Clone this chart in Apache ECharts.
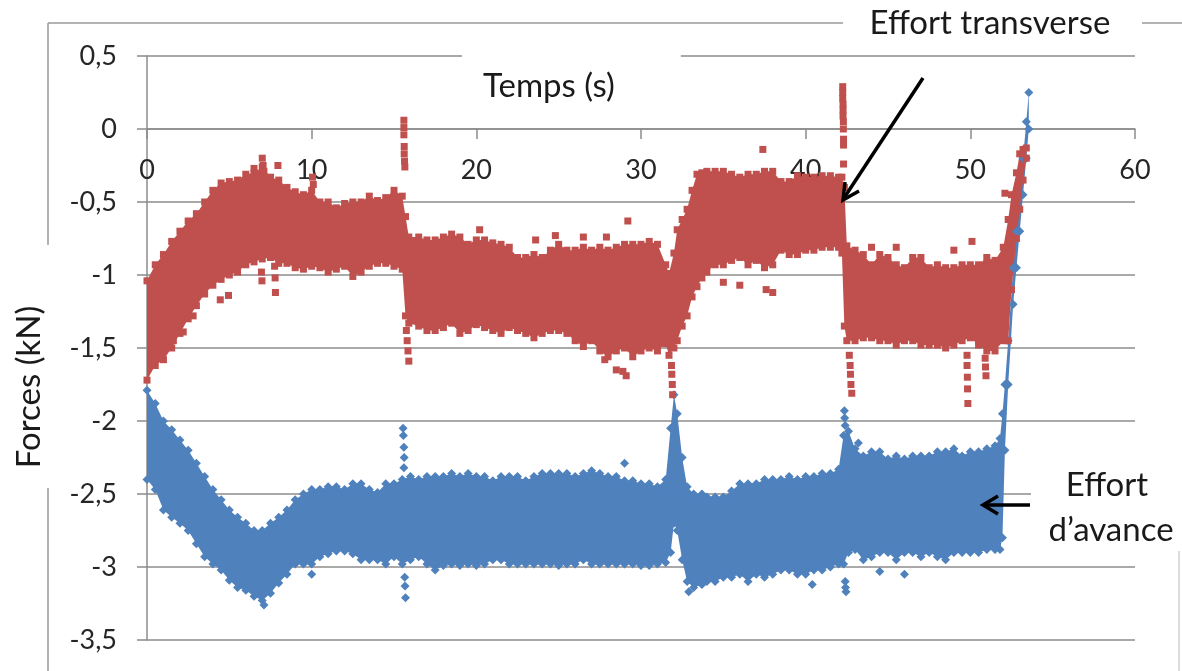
<!DOCTYPE html>
<html>
<head>
<meta charset="utf-8">
<title>Efforts de coupe</title>
<script src="https://cdn.jsdelivr.net/npm/echarts@6/dist/echarts.min.js"></script>
<style>
  html, body { margin: 0; padding: 0; background: #fff; }
  #forcesChart { width: 1182px; height: 671px; }
</style>
</head>
<body>
<div id="forcesChart"></div>
<script>
// Effort transverse : bords haut / bas du nuage de points
const tempsTransverse = [0, 0.5, 1, 1.5, 2, 2.5, 3, 3.5, 4, 4.5, 5, 5.5, 6, 6.5, 7, 7.5, 8, 8.5, 9, 9.5,
  10, 10.5, 11, 11.5, 12, 12.5, 13, 13.5, 14, 14.5, 15, 15.5, 15.7, 15.9, 16.5, 17, 17.5, 18, 18.5, 19,
  19.5, 20, 20.5, 21, 21.5, 22, 22.5, 23, 23.5, 24, 24.5, 25, 25.5, 26, 26.5, 27, 27.5, 28, 28.5, 29,
  29.5, 30, 30.5, 31, 31.5, 31.7, 32, 32.2, 32.5, 32.8, 33.1, 33.4, 33.7, 34, 34.5, 35, 35.5, 36, 36.5, 37,
  37.5, 38, 38.5, 39, 39.5, 40, 40.5, 41, 41.5, 42, 42.2, 42.35, 42.5, 43, 43.5, 44, 44.5, 45, 45.5, 46,
  46.5, 47, 47.5, 48, 48.5, 49, 49.5, 50, 50.5, 51, 51.5, 52, 52.3, 52.5, 52.8, 53, 53.2, 53.4]
const transverseHaut = [-1.04, -0.93, -0.86, -0.77, -0.70, -0.63, -0.58, -0.50, -0.42, -0.37, -0.36, -0.35, -0.31, -0.30, -0.26, -0.33, -0.35, -0.40, -0.43, -0.45,
  -0.42, -0.50, -0.50, -0.54, -0.51, -0.50, -0.50, -0.46, -0.49, -0.47, -0.42, -0.46, -0.60, -0.74, -0.74, -0.76, -0.76, -0.74, -0.72, -0.74,
  -0.79, -0.76, -0.76, -0.78, -0.79, -0.81, -0.88, -0.88, -0.86, -0.88, -0.83, -0.79, -0.83, -0.83, -0.81, -0.83, -0.81, -0.83, -0.81, -0.79,
  -0.79, -0.79, -0.77, -0.79, -0.93, -0.99, -0.85, -0.69, -0.62, -0.55, -0.42, -0.31, -0.30, -0.29, -0.29, -0.29, -0.31, -0.33, -0.31, -0.31,
  -0.29, -0.29, -0.36, -0.36, -0.32, -0.33, -0.33, -0.32, -0.32, -0.33, -0.33, -0.40, -0.80, -0.83, -0.86, -0.93, -0.86, -0.88, -0.93, -0.95,
  -0.88, -0.88, -0.95, -0.93, -0.95, -0.95, -0.93, -0.93, -0.93, -0.88, -0.90, -0.81, -0.62, -0.45, -0.30, -0.17, -0.14, -0.13]
const transverseBas = [-1.72, -1.62, -1.58, -1.50, -1.40, -1.30, -1.21, -1.13, -1.07, -1.03, -1.00, -0.98, -0.93, -0.91, -0.89, -0.88, -0.92, -0.92, -0.95, -0.96,
  -0.94, -0.95, -0.98, -0.96, -0.94, -1.01, -0.98, -0.94, -0.92, -0.92, -0.94, -0.96, -1.28, -1.33, -1.35, -1.38, -1.38, -1.36, -1.33, -1.40,
  -1.38, -1.34, -1.36, -1.38, -1.40, -1.36, -1.38, -1.40, -1.43, -1.40, -1.38, -1.38, -1.40, -1.45, -1.49, -1.45, -1.52, -1.56, -1.52, -1.50,
  -1.56, -1.52, -1.50, -1.52, -1.47, -1.55, -1.50, -1.45, -1.35, -1.28, -1.15, -1.08, -1.02, -0.98, -0.93, -0.93, -0.90, -0.88, -0.93, -0.90,
  -0.95, -0.93, -0.83, -0.86, -0.86, -0.83, -0.83, -0.81, -0.81, -0.81, -0.85, -1.35, -1.45, -1.45, -1.43, -1.43, -1.45, -1.45, -1.48, -1.45,
  -1.45, -1.48, -1.48, -1.48, -1.50, -1.48, -1.45, -1.43, -1.48, -1.52, -1.52, -1.45, -1.45, -1.10, -0.75, -0.55, -0.35, -0.20]
const transverseIsoles = [
  [15.6, 0.06], [15.6, 0.01], [15.6, -0.04], [15.62, -0.12], [15.62, -0.17], [15.64, -0.22], [15.66, -0.26],
  [15.75, -1.38], [15.8, -1.45], [15.85, -1.52], [15.9, -1.59],
  [7.0, -0.20], [7.05, -0.25], [7.1, -0.29], [7.95, -0.25], [6.5, -0.27], [10.05, -0.33], [10.1, -0.38],
  [1.6, -1.45], [2.2, -1.39], [2.8, -1.28], [4.45, -1.17], [4.95, -1.14], [6.95, -0.98], [6.98, -1.04],
  [7.75, -0.94], [7.78, -1.02], [7.8, -1.12],
  [20.2, -0.69], [23.6, -0.76], [24.8, -0.73], [26.5, -0.74], [27.9, -0.74], [29.2, -0.63],
  [27.8, -1.58], [28.5, -1.65], [29.1, -1.69], [28.9, -1.66],
  [31.85, -1.62], [31.87, -1.68], [31.9, -1.75], [31.92, -1.82],
  [42.25, 0.29], [42.25, 0.25], [42.25, 0.21], [42.27, 0.17], [42.27, 0.13], [42.27, 0.09], [42.29, 0.05],
  [42.29, 0.00], [42.3, -0.07], [42.3, -0.11], [42.3, -0.24],
  [42.65, -1.55], [42.7, -1.62], [42.72, -1.68], [42.75, -1.75], [42.8, -1.81],
  [37.4, -0.14], [35.0, -1.05], [36.0, -1.07], [37.6, -1.10], [38.0, -1.12],
  [49.8, -1.55], [49.8, -1.62], [49.82, -1.70], [49.83, -1.78], [49.85, -1.88],
  [50.9, -1.57], [50.92, -1.63], [50.95, -1.69],
  [44.0, -0.81], [45.5, -0.81], [49.0, -0.83], [50.1, -0.77], [52.1, -0.44], [52.9, -0.45]
]

// Effort d'avance
const tempsAvance = [0, 0.5, 1, 1.5, 2, 2.5, 3, 3.5, 4, 4.5, 5, 5.5, 6, 6.5, 7, 7.5, 8, 8.5, 9, 9.5,
  10, 10.5, 11, 11.5, 12, 12.5, 13, 13.5, 14, 14.5, 15, 15.5, 16, 16.5, 17, 17.5, 18, 18.5, 19, 19.5,
  20, 20.5, 21, 21.5, 22, 22.5, 23, 23.5, 24, 24.5, 25, 25.5, 26, 26.5, 27, 27.5, 28, 28.5, 29, 29.5,
  30, 30.5, 31, 31.5, 31.8, 32, 32.2, 32.5, 32.8, 33.2, 33.7, 34, 34.5, 35, 35.5, 36, 36.5, 37, 37.5, 38,
  38.5, 39, 39.5, 40, 40.5, 41, 41.5, 42, 42.3, 42.6, 43, 43.5, 44, 44.5, 45, 45.5, 46, 46.5, 47, 47.5,
  48, 48.5, 49, 49.5, 50, 50.5, 51, 51.5, 51.8, 51.95, 52.1, 52.3, 52.6, 52.8, 53, 53.2, 53.4, 53.55]
const avanceHaut = [-1.79, -1.88, -2.00, -2.06, -2.13, -2.20, -2.29, -2.38, -2.47, -2.54, -2.61, -2.66, -2.70, -2.75, -2.75, -2.70, -2.66, -2.61, -2.54, -2.50,
  -2.47, -2.47, -2.45, -2.45, -2.47, -2.43, -2.43, -2.47, -2.49, -2.43, -2.43, -2.40, -2.38, -2.40, -2.38, -2.38, -2.38, -2.36, -2.38, -2.36,
  -2.38, -2.38, -2.41, -2.38, -2.38, -2.38, -2.41, -2.38, -2.36, -2.36, -2.36, -2.36, -2.38, -2.36, -2.34, -2.36, -2.38, -2.38, -2.41, -2.41,
  -2.43, -2.43, -2.45, -2.40, -2.05, -1.82, -1.95, -2.25, -2.45, -2.50, -2.50, -2.52, -2.52, -2.52, -2.48, -2.43, -2.43, -2.43, -2.40, -2.40,
  -2.40, -2.38, -2.40, -2.38, -2.38, -2.36, -2.36, -2.33, -2.10, -2.07, -2.19, -2.24, -2.21, -2.21, -2.26, -2.24, -2.26, -2.24, -2.24, -2.24,
  -2.21, -2.21, -2.19, -2.24, -2.21, -2.21, -2.19, -2.17, -2.12, -1.95, -1.75, -1.45, -0.95, -0.70, -0.45, -0.20, 0.05, 0.25]
const avanceBas = [-2.40, -2.47, -2.61, -2.66, -2.70, -2.75, -2.84, -2.93, -2.98, -3.02, -3.09, -3.14, -3.16, -3.20, -3.23, -3.18, -3.11, -3.05, -2.98, -2.98,
  -2.98, -2.93, -2.91, -2.89, -2.89, -2.91, -2.95, -2.95, -2.95, -2.98, -2.93, -2.98, -2.95, -2.93, -2.98, -3.02, -2.99, -2.98, -2.99, -2.98,
  -2.99, -2.98, -2.95, -2.95, -2.98, -2.98, -2.98, -2.98, -2.98, -2.98, -2.99, -2.98, -2.98, -2.95, -2.98, -2.98, -2.98, -2.98, -2.98, -2.98,
  -2.99, -2.99, -2.98, -2.97, -2.90, -2.70, -2.75, -2.95, -3.10, -3.14, -3.12, -3.10, -3.10, -3.07, -3.07, -3.05, -3.10, -3.05, -3.07, -3.05,
  -3.02, -3.02, -3.05, -3.05, -3.02, -3.02, -3.00, -2.98, -2.98, -2.90, -2.88, -2.95, -2.93, -2.90, -2.90, -2.95, -2.90, -2.90, -2.93, -2.90,
  -2.93, -2.95, -2.90, -2.90, -2.90, -2.90, -2.88, -2.88, -2.88, -2.80, -2.20, -1.75, -1.20, -0.95, -0.70, -0.45, -0.20, 0.00]
const avanceIsoles = [
  [15.55, -2.05], [15.57, -2.10], [15.6, -2.18], [15.62, -2.25], [15.6, -2.32], [15.65, -3.07], [15.67, -3.13], [15.7, -3.21],
  [42.35, -1.93], [42.37, -1.98], [42.4, -2.03], [42.4, -3.10], [42.42, -3.14], [42.45, -3.17],
  [29.0, -2.29], [10.0, -3.05], [40.4, -3.12], [46.0, -3.05], [44.5, -3.03], [43.2, -2.15], [7.1, -3.26], [32.9, -3.17]
]

const rouge = '#C0504D'
const bleu = '#4F81BD'
const gris = '#8c8c8c'
const police = 'Lato, sans-serif'

// nuage dense : surface entre les deux bords, dessinee via les echelles des axes
function bande (nom, temps, haut, bas, couleur) {
  return {
    name: nom,
    type: 'custom',
    silent: true,
    data: [[temps[0], haut[0]]],
    renderItem: function (params, api) {
      const points = []
      for (let i = 0; i < temps.length; i++) points.push(api.coord([temps[i], haut[i]]))
      for (let i = temps.length - 1; i >= 0; i--) points.push(api.coord([temps[i], bas[i]]))
      return { type: 'polygon', shape: { points: points }, style: { fill: couleur } }
    }
  }
}

function points (nom, temps, haut, bas, isoles, symbole, taille, couleur) {
  const data = []
  temps.forEach((t, i) => {
    data.push([t, haut[i]])
    data.push([t, bas[i]])
  })
  isoles.forEach(p => data.push(p))
  return {
    name: nom,
    type: 'scatter',
    symbol: symbole,
    symbolSize: taille,
    itemStyle: { color: couleur, opacity: 1 },
    data: data
  }
}

const texte = (t, x, y, extra) => Object.assign({
  type: 'text', x: x, y: y, z: 100,
  style: { text: t, fontFamily: police, fontSize: 33, fill: '#1a1a1a', align: 'center', verticalAlign: 'middle', backgroundColor: '#fff' }
}, extra || {})

const trait = (x1, y1, x2, y2, couleur, largeur) => ({
  type: 'line', z: 90, shape: { x1: x1, y1: y1, x2: x2, y2: y2 },
  style: { stroke: couleur, lineWidth: largeur }
})

const option = {
  animation: false,
  backgroundColor: '#fff',
  title: {
    text: 'Temps (s)',
    left: 462,
    top: 49,
    padding: [21, 66, 20, 21],
    backgroundColor: '#fff',
    textStyle: { fontFamily: police, fontSize: 33, fontWeight: 'normal', color: '#1a1a1a' }
  },
  grid: { left: 147, right: 47, top: 56, bottom: 31, outerBoundsMode: 'none', containLabel: false },
  xAxis: {
    type: 'value',
    min: 0,
    max: 60,
    interval: 10,
    // axe place a la hauteur de y = 0 (bas de grille 640, zero a 129)
    offset: -511,
    axisLine: { show: true, onZero: false, lineStyle: { color: gris, width: 1.5 } },
    axisTick: { show: true, length: 10, lineStyle: { color: gris, width: 1.5 } },
    axisLabel: { margin: 28, fontFamily: police, fontSize: 27, color: '#262626' },
    splitLine: { show: false }
  },
  yAxis: {
    type: 'value',
    min: -3.5,
    max: 0.5,
    interval: 0.5,
    axisLine: { show: true, onZero: false, lineStyle: { color: gris, width: 1.5 } },
    axisTick: { show: true, length: 10, lineStyle: { color: gris, width: 1.5 } },
    axisLabel: {
      margin: 30, fontFamily: police, fontSize: 27, color: '#262626',
      formatter: v => String(v).replace('.', ',')
    },
    splitLine: { show: true, lineStyle: { color: gris, width: 1.5 } }
  },
  series: [
    bande("Effort d'avance", tempsAvance, avanceHaut, avanceBas, bleu),
    points("Effort d'avance", tempsAvance, avanceHaut, avanceBas, avanceIsoles, 'diamond', 9, bleu),
    bande('Effort transverse', tempsTransverse, transverseHaut, transverseBas, rouge),
    points('Effort transverse', tempsTransverse, transverseHaut, transverseBas, transverseIsoles, 'rect', 7, rouge)
  ],
  graphic: [
    // cadre de la zone du graphique
    trait(48, 23, 843, 23, '#9a9a9a', 1.5),
    trait(1142, 23, 1182, 23, '#9a9a9a', 1.5),
    trait(48, 23, 48, 245, '#9a9a9a', 1.5),
    trait(48, 488, 48, 671, '#9a9a9a', 1.5),
    trait(1179, 551, 1179, 671, '#d0d0d0', 1.5),
    { type: 'rect', z: 95, shape: { x: 1031, y: 462, width: 110, height: 88 }, style: { fill: '#fff' } },
    texte('Effort transverse', 990, 23),
    texte('Effort', 1107, 485),
    texte('d’avance', 1111, 530),
    texte('Forces (kN)', 29, 387, { rotation: Math.PI / 2 }),
    // fleches
    trait(923, 78, 844, 198, '#000', 3.5),
    { type: 'polyline', z: 100, shape: { points: [[859, 191], [843, 200], [845, 182]] }, style: { stroke: '#000', lineWidth: 3.5, fill: null } },
    trait(1030, 505, 985, 505, '#000', 3.5),
    { type: 'polyline', z: 100, shape: { points: [[998, 496], [983, 505], [998, 514]] }, style: { stroke: '#000', lineWidth: 3.5, fill: null } }
  ]
}

const chart = echarts.init(document.getElementById('forcesChart'))
chart.setOption(option)
</script>
</body>
</html>
